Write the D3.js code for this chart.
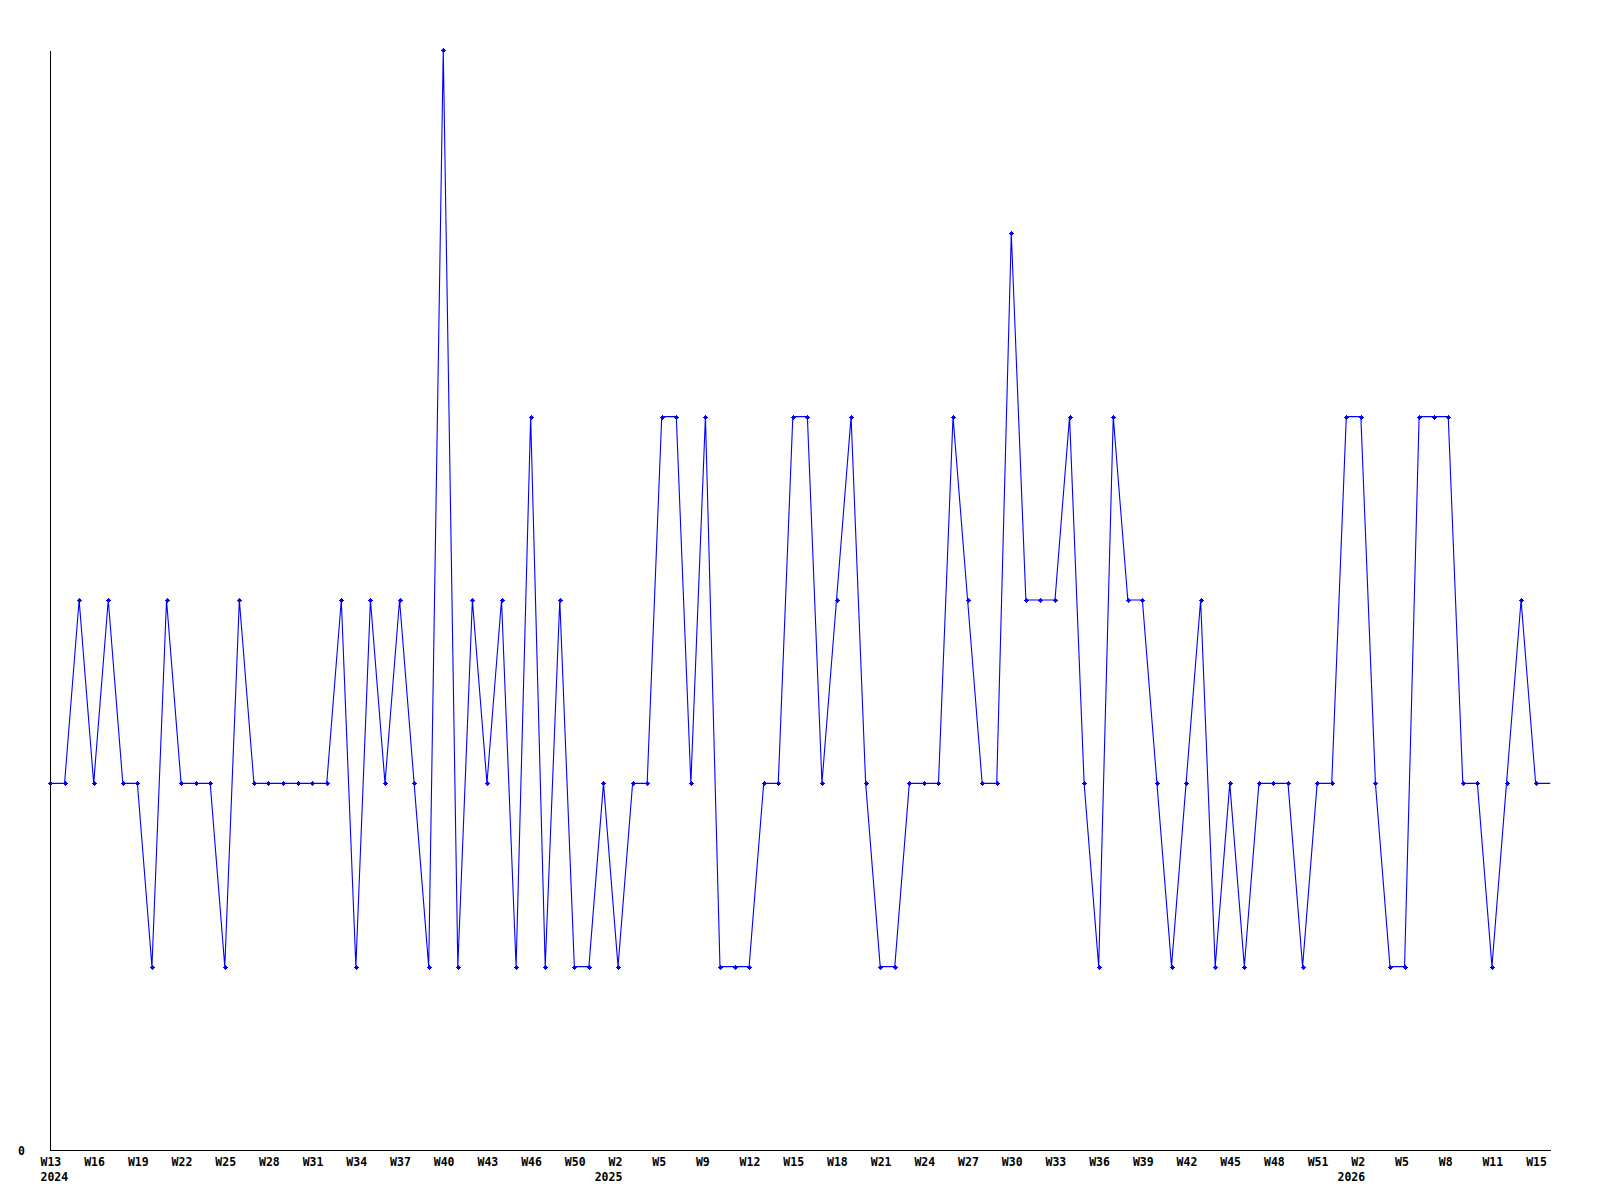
<!DOCTYPE html>
<meta charset="utf-8">
<style>
	body { margin: 0; background: #fff; }
	svg text { font-family: "DejaVu Sans Mono", monospace; font-weight: bold; font-size: 11.5px; fill: #000; }
</style>
<svg width="1600" height="1200"></svg>
<script src="https://d3js.org/d3.v7.min.js"></script>
<script>
	// week categories, one per point (some weeks have no entry)
	var weeks = [
		'2024-W13', '2024-W14', '2024-W15', '2024-W16', '2024-W17', '2024-W18', '2024-W19', '2024-W20',
		'2024-W21', '2024-W22', '2024-W23', '2024-W24', '2024-W25', '2024-W26', '2024-W27', '2024-W28',
		'2024-W29', '2024-W30', '2024-W31', '2024-W32', '2024-W33', '2024-W34', '2024-W35', '2024-W36',
		'2024-W37', '2024-W38', '2024-W39', '2024-W40', '2024-W41', '2024-W42', '2024-W43', '2024-W44',
		'2024-W45', '2024-W46', '2024-W47', '2024-W48', '2024-W50', '2024-W51', '2024-W52',
		'2025-W2', '2025-W3', '2025-W4', '2025-W5', '2025-W6', '2025-W7', '2025-W9', '2025-W10',
		'2025-W11', '2025-W12', '2025-W13', '2025-W14', '2025-W15', '2025-W16', '2025-W17', '2025-W18',
		'2025-W19', '2025-W20', '2025-W21', '2025-W22', '2025-W23', '2025-W24', '2025-W25', '2025-W26',
		'2025-W27', '2025-W28', '2025-W29', '2025-W30', '2025-W31', '2025-W32', '2025-W33', '2025-W34',
		'2025-W35', '2025-W36', '2025-W37', '2025-W38', '2025-W39', '2025-W40', '2025-W41', '2025-W42',
		'2025-W43', '2025-W44', '2025-W45', '2025-W46', '2025-W47', '2025-W48', '2025-W49', '2025-W50',
		'2025-W51', '2025-W52', '2026-W1', '2026-W2', '2026-W3', '2026-W4', '2026-W5', '2026-W6',
		'2026-W7', '2026-W8', '2026-W9', '2026-W10', '2026-W11', '2026-W12', '2026-W13', '2026-W15',
		'2026-W16'
	]

	var values = [
		2, 2, 3, 2, 3, 2, 2, 1, 3, 2,
		2, 2, 1, 3, 2, 2, 2, 2, 2, 2,
		3, 1, 3, 2, 3, 2, 1, 6, 1, 3,
		2, 3, 1, 4, 1, 3, 1, 1, 2, 1,
		2, 2, 4, 4, 2, 4, 1, 1, 1, 2,
		2, 4, 4, 2, 3, 4, 2, 1, 1, 2,
		2, 2, 4, 3, 2, 2, 5, 3, 3, 3,
		4, 2, 1, 4, 3, 3, 2, 1, 2, 3,
		1, 2, 1, 2, 2, 2, 1, 2, 2, 4,
		4, 2, 1, 1, 4, 4, 4, 2, 2, 1,
		2, 3, 2, 2
	]

	// labelled ticks on the x axis
	var tickWeeks = [
		'2024-W13', '2024-W16', '2024-W19', '2024-W22', '2024-W25', '2024-W28', '2024-W31', '2024-W34',
		'2024-W37', '2024-W40', '2024-W43', '2024-W46', '2024-W50', '2025-W2', '2025-W5', '2025-W9',
		'2025-W12', '2025-W15', '2025-W18', '2025-W21', '2025-W24', '2025-W27', '2025-W30', '2025-W33',
		'2025-W36', '2025-W39', '2025-W42', '2025-W45', '2025-W48', '2025-W51', '2026-W2', '2026-W5',
		'2026-W8', '2026-W11', '2026-W15'
	]
	var yearTicks = ['2024-W13', '2025-W2', '2026-W2']
	var yTicks = [0]

	var svg = d3.select('svg'),
		margin = { top: 50, left: 50 },
		width = 1500.2,
		height = 1100,
		g = svg.append('g').attr('transform', 'translate(' + margin.left + ',' + margin.top + ')')

	var x = d3.scalePoint().domain(weeks).range([0, width]),
		y = d3.scaleLinear().domain([0, d3.max(values)]).range([height, 0])

	var xAxis = d3.axisBottom(x)
		.tickValues(tickWeeks)
		.tickSize(0)
		.tickSizeOuter(0)
		.tickFormat(function (d) { return d.split('-')[1] })

	var gx = g.append('g')
		.attr('class', 'axis axis--x')
		.attr('transform', 'translate(0,' + height + ')')
		.call(xAxis)
	gx.attr('font-family', null).attr('font-size', null)
	gx.select('.domain').attr('stroke', '#000').attr('shape-rendering', 'crispEdges')
	gx.selectAll('.tick text')
		.attr('text-anchor', 'start')
		.attr('x', -10)
		.attr('y', 16)
		.attr('dy', null)

	// year under the first week of each year
	gx.selectAll('.tick')
		.filter(function (d) { return yearTicks.indexOf(d) >= 0 })
		.each(function (d, i) {
			var t = d3.select(this)
			var w = t.select('text').node().getComputedTextLength()
			t.append('text')
				.attr('fill', '#000')
				.attr('text-anchor', i === 0 ? 'start' : 'end')
				.attr('x', i === 0 ? -10 : -10 + w)
				.attr('y', 31)
				.text(d.split('-')[0])
		})

	var yAxis = d3.axisLeft(y)
		.tickValues(yTicks)
		.tickFormat(d3.format('d'))
		.tickSize(0)
		.tickSizeOuter(0)
		.tickPadding(25)

	var gy = g.append('g')
		.attr('class', 'axis axis--y')
		.call(yAxis)
	gy.attr('font-family', null).attr('font-size', null)
	gy.select('.domain').attr('stroke', '#000').attr('shape-rendering', 'crispEdges')
	gy.selectAll('.tick text').attr('dy', '0.35em')

	// the series line
	var line = d3.line()
		.x(function (d, i) { return x(weeks[i]) })
		.y(function (d) { return y(d) })

	g.append('path')
		.attr('fill', 'none')
		.attr('stroke', '#0000ff')
		.attr('stroke-width', 1.1)
		.attr('d', line(values))

	// small cross markers, last point has none
	var marks = g.selectAll('.mark')
		.data(values.slice(0, values.length - 1))
		.enter()
		.append('g')
		.attr('class', 'mark')
		.attr('transform', function (d, i) {
			return 'translate(' + Math.round(x(weeks[i])) + ',' + Math.round(y(d)) + ')'
		})
	marks.append('path')
		.attr('d', 'M-2,0.5H3M0.5,-2V3')
		.attr('stroke', '#0000ff')
		.attr('stroke-width', 1)
		.attr('shape-rendering', 'crispEdges')
	marks.append('rect')
		.attr('x', -1).attr('y', -1)
		.attr('width', 3).attr('height', 3)
		.attr('fill', '#0000ff')
		.attr('shape-rendering', 'crispEdges')
</script>
